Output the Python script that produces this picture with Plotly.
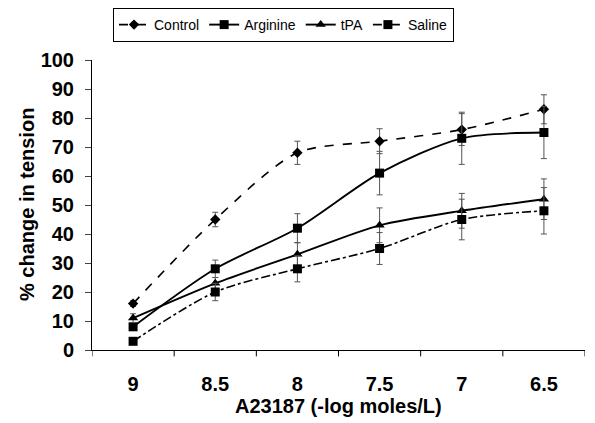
import plotly.graph_objects as go

categories = ["9", "8.5", "8", "7.5", "7", "6.5"]
control = [16, 45, 68, 72, 76, 83]
control_err = [1, 2.5, 4, 4.3, 5.5, 5]
arginine = [8, 28, 42, 61, 73, 75]
arginine_err = [1, 3, 5, 7.5, 9, 9]
tpa = [11, 23, 33, 43, 48, 52]
tpa_err = [1.5, 2, 4, 6, 6, 7]
saline = [3, 20, 28, 35, 45, 48]
saline_err = [1, 3, 4.5, 5.5, 7, 8]
yticks = list(range(0, 101, 10))

xidx = list(range(len(categories)))
FONT = "Arial, Liberation Sans, sans-serif"

fig = go.Figure()

def add(name, y, err, symbol, dash, size):
    fig.add_trace(go.Scatter(
        x=xidx, y=y, name=name, mode="lines+markers",
        line=dict(color="black", width=1.6 if dash != "solid" else 1.9, dash=dash, shape="spline", smoothing=0.8),
        marker=dict(symbol=symbol, size=size, color="black"),
        error_y=dict(type="data", array=err, visible=True, color="#555555", thickness=1, width=3),
    ))

add("Control", control, control_err, "diamond", "dash", 8)
add("Arginine", arginine, arginine_err, "square", "solid", 9)
add("tPA", tpa, tpa_err, "triangle-up", "solid", 9)
add("Saline", saline, saline_err, "square", "dashdot", 9)

fig.update_layout(
    width=595, height=423,
    margin=dict(l=84, r=18, t=52, b=81, autoexpand=False),
    paper_bgcolor="white", plot_bgcolor="white",
    font=dict(family=FONT, color="black"),
    showlegend=True,
    legend=dict(orientation="h", xref="container", yref="container",
                x=105 / 595, y=1, xanchor="left", yanchor="top",
                bordercolor="black", borderwidth=1, font=dict(size=14, family=FONT),
                itemwidth=30, tracegroupgap=0),
    xaxis=dict(range=[-0.5, 5.5], tickmode="array", tickvals=xidx, ticktext=categories,
               showline=True, linecolor="black", linewidth=1, ticks="",
               showgrid=False, zeroline=False, automargin=False,
               ticklabelstandoff=16,
               tickfont=dict(size=20, family=FONT, weight="bold")),
    yaxis=dict(range=[0, 100], tickmode="array", tickvals=yticks,
               showline=True, linecolor="black", linewidth=1, ticks="outside", ticklen=6,
               showgrid=False, zeroline=False, automargin=False,
               ticklabelstandoff=7,
               tickfont=dict(size=20, family=FONT, weight="bold")),
    annotations=[
        dict(text="A23187 (-log moles/L)", xref="paper", yref="paper", x=0.5, y=-56 / 290,
             xanchor="center", yanchor="middle", showarrow=False,
             font=dict(size=20, family=FONT, weight="bold")),
        dict(text="% change in tension", xref="paper", yref="paper", x=-65 / 493, y=0.5,
             xanchor="center", yanchor="middle", showarrow=False, textangle=-90,
             font=dict(size=20, family=FONT, weight="bold")),
    ],
)

# category-boundary ticks on x axis
for b in [i - 0.5 for i in range(len(categories) + 1)]:
    fig.add_shape(type="line", xref="x", yref="paper", x0=b, x1=b, y0=0, y1=-0.022,
                  line=dict(color="black", width=1))

fig.write_html("out.html")
